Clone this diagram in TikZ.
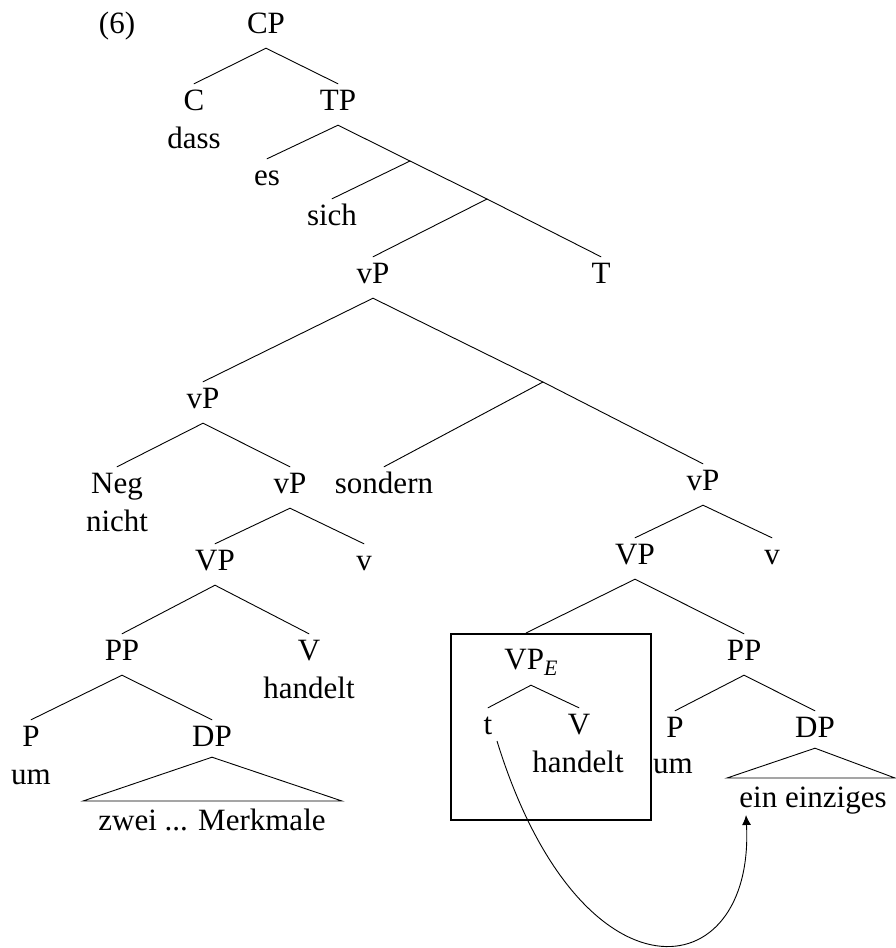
\documentclass[tikz,border=0pt]{standalone}
\usepackage{fontspec}
\setmainfont{Liberation Serif}
\usetikzlibrary{arrows.meta}
\begin{document}
\begin{tikzpicture}[x=1pt,y=-1pt,
  lab/.style={anchor=base, inner xsep=0pt, inner ysep=5pt, text height=21pt, text depth=10pt, font=\fontsize{31}{36}\selectfont},
  branch/.style={line width=0.9pt, line cap=round},
  boxline/.style={line width=2.2pt},
  mvarrow/.style={line width=0.9pt, -{Latex[length=10pt,width=9pt]}}]
\useasboundingbox (0,0) rectangle (895,948);

% labels
\node[lab] (ex)   at (117,33) {(6)};
\node[lab] (CP)   at (266,33) {CP};
\node[lab] (C)    at (194,110) {C};
\node[lab] (dass) at (194,148) {dass};
\node[lab] (TP)   at (338,110) {TP};
\node[lab] (es)   at (267,185) {es};
\node[lab] (sich) at (332,225) {sich};
\node[lab] (vPa)  at (373,283) {vP};
\node[lab] (T)    at (601,283) {T};
\node[lab] (vPb)  at (203,408) {vP};
\node[lab] (Neg)  at (117,493) {Neg};
\node[lab] (nicht) at (117,531) {nicht};
\node[lab] (vPc)  at (290,493) {vP};
\node[lab] (sondern) at (384,493) {sondern};
\node[lab] (vPd)  at (703,490) {vP};
\node[lab] (VPa)  at (215,570) {VP};
\node[lab] (va)   at (364,570) {v};
\node[lab] (VPb)  at (635,564) {VP};
\node[lab] (vb)   at (772,564) {v};
\node[lab] (PPa)  at (122,660) {PP};
\node[lab] (Va)   at (309,660) {V};
\node[lab] (handelta) at (309,698) {handelt};
\node[lab] (Pa)   at (31,746) {P};
\node[lab] (uma)  at (31,784) {um};
\node[lab] (DPa)  at (212,746) {DP};
\node[lab] (zwei) at (212,830) {zwei ... Merkmale};
\node[lab] (VPE)  at (531,669) {VP\raisebox{-6pt}{\fontsize{22}{22}\selectfont\itshape E}};
\node[lab] (PPb)  at (744,660) {PP};
\node[lab] (t)    at (488,734) {t};
\node[lab] (Vb)   at (579,734) {V};
\node[lab] (handeltb) at (578,772) {handelt};
\node[lab] (Pb)   at (675,737) {P};
\node[lab] (umb)  at (673,773) {um};
\node[lab] (DPb)  at (815,737) {DP};
\node[lab] (einz) at (813,807) {ein einziges};

% branch points
\coordinate (x1) at (410,161);
\coordinate (x2) at (487,199);
\coordinate (x3) at (543,382);
\coordinate (VPEtop) at (526,633);

% edges
\draw[branch] (C.north) -- (CP.south) -- (TP.north);
\draw[branch] (es.north) -- (TP.south) -- (x1) -- (x2) -- (T.north);
\draw[branch] (x1) -- (sich.north);
\draw[branch] (x2) -- (vPa.north);
\draw[branch] (vPb.north) -- (vPa.south) -- (x3) -- (vPd.north);
\draw[branch] (x3) -- (sondern.north);
\draw[branch] (Neg.north) -- (vPb.south) -- (vPc.north);
\draw[branch] (VPa.north) -- (vPc.south) -- (va.north);
\draw[branch] (PPa.north) -- (VPa.south) -- (Va.north);
\draw[branch] (Pa.north) -- (PPa.south) -- (DPa.north);
\draw[branch] (VPb.north) -- (vPd.south) -- (vb.north);
\draw[branch] (VPEtop) -- (VPb.south) -- (PPb.north);
\draw[branch] (t.north) -- ([yshift=-1pt]VPE.south) -- (Vb.north);
\draw[branch] (Pb.north) -- (PPb.south) -- (DPb.north);

% triangles
\coordinate (ta1) at (83,801);
\coordinate (ta2) at (342,801);
\coordinate (tb1) at (727,778);
\coordinate (tb2) at (895,778);
\draw[branch, line cap=butt] ([yshift=4pt]DPa.south) -- (ta2) -- (ta1) -- cycle;
\draw[branch, line cap=butt] ([yshift=4pt]DPb.south) -- (tb2) -- (tb1) -- cycle;

% box around VP_E
\coordinate (bx1) at (451,634);
\coordinate (bx2) at (651,820);
\draw[boxline] (bx1) rectangle (bx2);

% movement arrow
\coordinate (tfoot) at (497,741);
\coordinate (etip) at (746,815);
\draw[mvarrow] (tfoot) .. controls (580,1010) and (755,990) .. (etip);
\end{tikzpicture}
\end{document}
